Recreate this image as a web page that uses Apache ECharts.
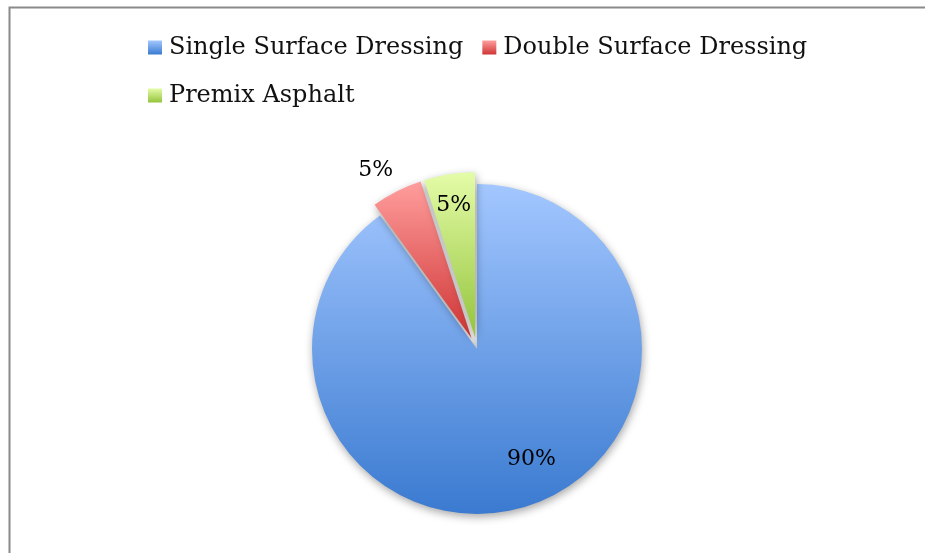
<!DOCTYPE html>
<html>
<head>
<meta charset="utf-8">
<style>
  html, body { margin: 0; padding: 0; background: #ffffff; }
  #chart { width: 925px; height: 553px; }
</style>
<script src="https://cdn.jsdelivr.net/npm/echarts@6/dist/echarts.min.js"></script>
</head>
<body>
<div id="chart"></div>
<script>
// Surfacing types and their shares
var categories = ['Single Surface Dressing', 'Double Surface Dressing', 'Premix Asphalt'];
var shares = [90, 5, 5];
var exploded = [false, true, true];

// Top / bottom colours of each slice's vertical gradient
var gradientStops = [
  ['#a3c7ff', '#3a7ad0'],
  ['#ff9e9d', '#cf3434'],
  ['#e4fca8', '#94c43c']
];

// Per-slice nudge of the percentage label away from its default spot
var labelNudge = [[28, 29], [-57, -92], [-8, -47]];

function vGrad(top, bottom) {
  return new echarts.graphic.LinearGradient(0, 0, 0, 1, [
    { offset: 0, color: top },
    { offset: 1, color: bottom }
  ]);
}

var pieData = categories.map(function (name, i) {
  return {
    name: name,
    value: shares[i],
    selected: exploded[i],
    itemStyle: { color: vGrad(gradientStops[i][0], gradientStops[i][1]) }
  };
});

var chart = echarts.init(document.getElementById('chart'), null, { renderer: 'canvas' });

chart.setOption({
  backgroundColor: '#ffffff',
  animation: false,
  textStyle: { fontFamily: 'DejaVu Serif' },
  graphic: [{
    type: 'rect',
    silent: true,
    shape: { x: 9.5, y: 7.5, width: 1200, height: 1200 },
    style: { fill: 'none', stroke: '#8a8a8a', lineWidth: 2 }
  }],
  legend: {
    left: 148,
    top: 33,
    width: 680,
    padding: 0,
    orient: 'horizontal',
    icon: 'rect',
    itemWidth: 14,
    itemHeight: 14,
    itemGap: 19,
    selectedMode: false,
    itemStyle: { shadowBlur: 0, shadowOffsetX: 0, shadowOffsetY: 0 },
    textStyle: {
      fontFamily: 'DejaVu Serif',
      fontSize: 24,
      color: '#111111',
      lineHeight: 29,
      padding: [0, 0, 0, 2]
    },
    data: categories
  },
  series: [{
    type: 'pie',
    center: [477, 349],
    radius: [0, 165],
    startAngle: 90,
    clockwise: true,
    selectedMode: 'multiple',
    selectedOffset: 12,
    avoidLabelOverlap: false,
    silent: true,
    itemStyle: {
      shadowBlur: 8,
      shadowColor: 'rgba(0,0,0,0.35)',
      shadowOffsetX: 1,
      shadowOffsetY: 3
    },
    label: {
      show: true,
      position: 'inside',
      formatter: '{d}%',
      fontFamily: 'DejaVu Serif',
      fontSize: 22,
      color: '#000000'
    },
    labelLine: { show: false },
    labelLayout: function (p) {
      var n = labelNudge[p.dataIndex];
      return { dx: n[0], dy: n[1] };
    },
    data: pieData
  }]
});
</script>
</body>
</html>
